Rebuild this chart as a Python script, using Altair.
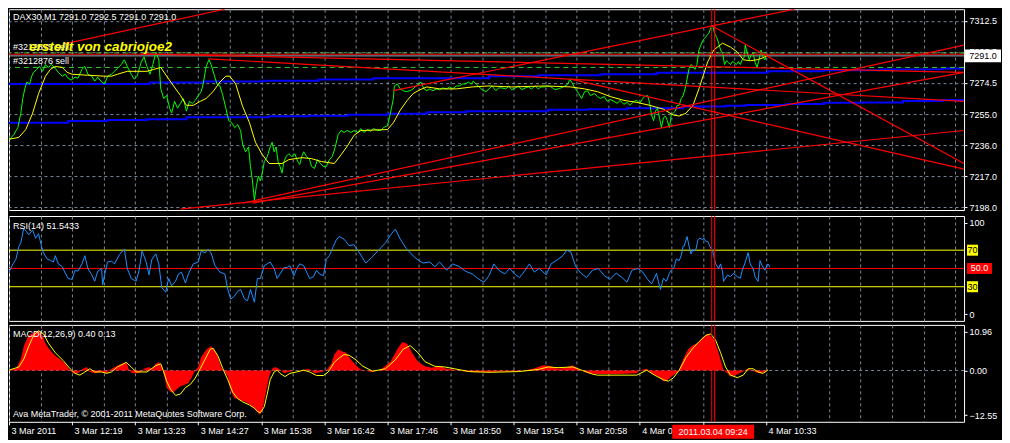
import altair as alt
import pandas as pd

W = 956
H_PRICE = 201
H_RSI = 105
H_MACD = 97
XMAX = 969
FONT = "Liberation Sans"
GRID = "#778899"
GRID_DASH = [3, 3]

# ---------------- price panel data (bar index, price) ----------------
price_bar = [
    0, 5, 9, 12, 14, 16, 18, 21, 23, 25,
    28, 31, 34, 37, 40, 43, 47, 50, 54, 57,
    60, 63, 67, 70, 74, 77, 80, 84, 87, 90,
    94, 97, 100, 104, 107, 110, 114, 117, 120, 124,
    127, 130, 134, 137, 140, 143, 146, 149, 152, 154,
    157, 160, 163, 165, 168, 171, 174, 177, 180, 183,
    186, 189, 192, 195, 197, 200, 203, 205, 208, 211,
    214, 217, 220, 223, 226, 229, 232, 235, 237, 240,
    243, 245, 247, 249, 251, 253, 255, 257, 259, 262,
    265, 267, 269, 271, 273, 275, 277, 279, 281, 284,
    287, 290, 293, 295, 297, 299, 302, 305, 307, 310,
    313, 316, 319, 322, 325, 328, 331, 334, 337, 340,
    343, 347, 350, 354, 357, 360, 364, 367, 370, 374,
    377, 380, 384, 386, 388, 390, 391, 394, 397, 400,
    403, 407, 410, 413, 416, 418, 421, 424, 427, 430,
    434, 437, 440, 444, 447, 450, 454, 457, 460, 463,
    466, 469, 471, 474, 477, 480, 484, 487, 490, 494,
    497, 500, 504, 507, 510, 514, 517, 520, 524, 527,
    530, 534, 537, 540, 544, 547, 550, 554, 557, 560,
    564, 567, 569, 572, 574, 576, 578, 581, 584, 587,
    590, 594, 597, 600, 604, 607, 610, 614, 617, 620,
    624, 627, 630, 634, 637, 640, 643, 645, 648, 650,
    652, 654, 656, 658, 660, 662, 664, 666, 668, 670,
    672, 674, 676, 678, 680, 682, 684, 686, 688, 690,
    692, 694, 696, 698, 700, 702, 704, 706, 708, 710,
    712, 714, 716, 718, 720, 722, 724, 726, 728, 730,
    732, 734, 736, 738, 740, 742, 744, 746, 747, 749,
    751, 753, 755, 757, 759, 761, 763, 765, 767, 769,
    770,
]
price_val = [
    7239.1, 7242.7, 7246.9, 7255.8, 7264.8, 7270.7, 7274.9, 7273.7, 7278.5, 7280.9,
    7282.7, 7284.5, 7281.5, 7285.7, 7283.9, 7285.7, 7283.3, 7280.9, 7278.5, 7279.7,
    7277.3, 7276.1, 7277.9, 7277.3, 7282.7, 7284.5, 7279.7, 7278.5, 7275.5, 7277.9,
    7274.9, 7273.7, 7278.5, 7279.7, 7281.5, 7283.3, 7285.7, 7288.6, 7284.5, 7279.7,
    7276.7, 7278.5, 7286.9, 7290.4, 7284.5, 7279.7, 7285.7, 7293.4, 7288.6, 7270.7,
    7264.8, 7266.6, 7258.8, 7255.8, 7263.0, 7258.8, 7261.8, 7264.8, 7257.0, 7263.0,
    7261.8, 7263.6, 7266.6, 7269.0, 7273.7, 7284.5, 7288.6, 7285.7, 7279.7, 7273.7,
    7272.5, 7266.6, 7258.8, 7251.1, 7249.9, 7246.9, 7248.7, 7245.1, 7236.8, 7232.0,
    7235.0, 7223.0, 7214.1, 7202.2, 7211.1, 7217.1, 7214.1, 7218.9, 7226.0, 7229.0,
    7235.0, 7237.9, 7232.0, 7235.0, 7226.0, 7223.0, 7218.9, 7226.0, 7229.0, 7230.8,
    7229.0, 7230.8, 7226.0, 7224.2, 7229.0, 7232.0, 7229.0, 7227.2, 7223.0, 7221.8,
    7227.2, 7224.8, 7223.0, 7223.0, 7227.2, 7229.0, 7235.0, 7242.7, 7245.1, 7243.9,
    7245.1, 7243.9, 7245.1, 7243.9, 7246.3, 7243.9, 7245.7, 7244.5, 7246.3, 7245.1,
    7245.1, 7246.9, 7248.1, 7252.9, 7258.8, 7264.8, 7272.5, 7273.7, 7270.7, 7269.6,
    7269.0, 7269.6, 7270.7, 7272.5, 7273.7, 7274.9, 7270.7, 7269.6, 7270.7, 7269.6,
    7270.7, 7270.2, 7271.3, 7270.7, 7271.9, 7270.7, 7272.5, 7272.5, 7273.7, 7273.7,
    7274.9, 7273.7, 7275.5, 7273.7, 7271.9, 7270.2, 7269.0, 7270.7, 7272.5, 7269.6,
    7271.3, 7271.3, 7270.7, 7272.5, 7270.2, 7271.3, 7272.5, 7270.2, 7271.3, 7271.9,
    7270.7, 7272.5, 7270.7, 7271.9, 7271.9, 7272.5, 7271.9, 7270.2, 7270.7, 7271.3,
    7272.5, 7273.7, 7276.7, 7273.7, 7271.3, 7269.6, 7267.8, 7264.8, 7269.0, 7269.6,
    7266.6, 7267.8, 7266.0, 7264.8, 7266.0, 7263.0, 7264.2, 7263.0, 7261.8, 7263.6,
    7261.2, 7262.4, 7260.6, 7263.0, 7263.6, 7261.8, 7264.8, 7266.0, 7266.6, 7261.8,
    7254.6, 7251.1, 7257.0, 7258.8, 7252.9, 7246.9, 7252.9, 7254.0, 7251.1, 7246.9,
    7254.6, 7255.8, 7257.0, 7260.6, 7260.6, 7264.8, 7266.6, 7270.7, 7276.7, 7283.3,
    7285.7, 7284.5, 7282.7, 7285.7, 7294.6, 7297.6, 7300.6, 7301.8, 7303.6, 7304.7,
    7308.3, 7309.5, 7304.7, 7302.4, 7298.8, 7294.6, 7292.8, 7285.7, 7288.0, 7286.9,
    7285.7, 7287.5, 7286.9, 7285.7, 7287.5, 7285.7, 7288.6, 7290.4, 7297.6, 7292.8,
    7288.6, 7291.6, 7292.8, 7286.9, 7283.9, 7288.6, 7294.6, 7290.4, 7288.6, 7291.6,
    7291.0,
]

ma_bar = [
    0, 10, 17, 24, 30, 37, 42, 47, 54, 59,
    64, 80, 97, 104, 110, 120, 130, 140, 147, 154,
    160, 167, 174, 180, 187, 194, 200, 207, 214, 220,
    224, 230, 237, 244, 250, 257, 264, 277, 284, 297,
    307, 317, 330, 337, 344, 350, 357, 384, 390, 397,
    404, 410, 417, 424, 437, 454, 470, 487, 510, 544,
    570, 584, 597, 610, 624, 637, 650, 664, 674, 680,
    687, 694, 700, 709, 715, 724, 732, 739, 745, 752,
    759, 765, 770,
]
ma_val = [
    7239.7, 7240.9, 7245.7, 7255.8, 7267.8, 7278.5, 7282.7, 7284.5, 7283.9, 7280.9,
    7279.7, 7279.1, 7278.5, 7278.5, 7279.7, 7281.5, 7281.5, 7281.5, 7282.7, 7283.9,
    7278.5, 7272.5, 7266.6, 7260.6, 7260.6, 7263.0, 7264.8, 7269.0, 7274.9, 7278.5,
    7278.5, 7273.7, 7260.0, 7249.9, 7237.9, 7230.2, 7224.8, 7224.8, 7227.2, 7228.4,
    7227.8, 7226.0, 7224.8, 7230.2, 7236.2, 7242.1, 7245.1, 7245.7, 7249.9, 7257.6,
    7263.6, 7267.8, 7270.2, 7271.9, 7270.7, 7270.7, 7271.9, 7272.5, 7271.9, 7272.5,
    7271.9, 7270.7, 7269.0, 7266.0, 7263.6, 7262.4, 7260.6, 7258.2, 7254.6, 7254.0,
    7255.8, 7260.6, 7270.7, 7287.5, 7294.6, 7298.8, 7296.4, 7293.4, 7288.6, 7288.0,
    7288.6, 7289.8, 7291.6,
]

# stepped blue levels
blue1_bar = [0, 143, 197, 257, 314, 370, 487, 537, 600, 657, 770, 827, 884, 947, 969]
blue1_val = [7273.7, 7274.7, 7275.3, 7275.7, 7276.5, 7277.3, 7278.5, 7279.1, 7279.7,
             7280.6, 7281.5, 7282.1, 7282.7, 7283.3, 7283.3]
blue2_bar = [0, 60, 100, 140, 180, 264, 304, 344, 384, 424, 464, 547, 587, 627, 684,
             727, 747, 789, 827, 867, 907, 947, 969]
blue2_val = [7249.9, 7250.9, 7251.5, 7252.0, 7253.2, 7253.9, 7254.2, 7254.8, 7255.4,
             7256.3, 7256.9, 7257.8, 7258.2, 7258.8, 7259.8, 7260.4, 7260.8, 7261.4,
             7262.2, 7262.4, 7263.2, 7263.8, 7263.8]

# red trend lines: start bar/price -> end bar/price
trend_b0 = [55, 390, 0, 134, 202, 570, 713, 237, 247, 174]
trend_p0 = [7298.2, 7269.6, 7292.0, 7292.2, 7289.2, 7276.7, 7309.5, 7200.4, 7200.4, 7196.8]
trend_b1 = [219, 797, 969, 969, 969, 969, 969, 969, 969, 969]
trend_p1 = [7319.7, 7319.7, 7292.0, 7280.9, 7263.0, 7221.3, 7224.8, 7297.6, 7280.9, 7245.1]

order_price = [7292.8, 7283.9]
order_label = ["#3212875 sell", "#3212876 sell"]
bid_price = [7291.0]
cross_bar = [713, 716]
price_ticks = [7198.0, 7217.0, 7236.0, 7255.0, 7274.5, 7293.5, 7312.5]

title_price = "DAX30,M1  7291.0 7292.5 7291.0 7291.0"
signature = "erstellt von cabriojoe2"

# ---------------- RSI ----------------
rsi_bar = [
    0, 4, 7, 10, 12, 15, 18, 20, 24, 27,
    30, 33, 35, 39, 42, 45, 47, 50, 54, 57,
    60, 64, 67, 70, 74, 77, 80, 84, 87, 90,
    94, 95, 97, 100, 104, 107, 112, 115, 117, 120,
    124, 129, 132, 135, 139, 142, 145, 149, 152, 155,
    159, 162, 165, 169, 172, 175, 179, 182, 187, 192,
    195, 199, 202, 205, 209, 214, 219, 222, 225, 229,
    232, 235, 239, 242, 245, 249, 252, 255, 259, 262,
    265, 269, 272, 275, 279, 282, 285, 289, 292, 295,
    299, 302, 305, 309, 312, 315, 319, 322, 325, 329,
    332, 335, 340, 345, 350, 355, 362, 368, 375, 382,
    388, 392, 397, 403, 408, 414, 420, 427, 432, 437,
    444, 450, 457, 463, 470, 477, 482, 487, 492, 497,
    503, 508, 513, 518, 523, 528, 533, 538, 545, 550,
    557, 562, 566, 570, 575, 580, 586, 592, 598, 604,
    610, 616, 622, 627, 632, 638, 643, 648, 652, 657,
    660, 661, 664, 667, 670, 672, 675, 677, 680, 682,
    684, 685, 688, 690, 692, 694, 695, 697, 699, 701,
    704, 705, 707, 709, 711, 714, 715, 717, 720, 722,
    724, 725, 729, 732, 735, 739, 742, 744, 747, 750,
    752, 755, 757, 760, 762, 764, 767, 770, 772,
]
rsi_val = [
    46, 55, 60, 74, 78, 94, 90, 87, 92, 83,
    88, 74, 67, 60, 59, 57, 64, 55, 52, 45,
    39, 38, 48, 47, 55, 64, 50, 43, 36, 47,
    50, 32, 43, 57, 58, 55, 65, 69, 71, 50,
    39, 36, 48, 69, 58, 43, 60, 66, 55, 29,
    24, 39, 31, 36, 44, 46, 34, 44, 55, 57,
    69, 67, 71, 67, 53, 46, 44, 27, 16.5, 20,
    25, 27, 16.5, 14.7, 27, 13, 39, 39, 53, 55,
    57, 50, 39, 44, 51, 51, 53, 42, 50, 55,
    53, 46, 39, 41, 48, 44, 42, 60, 64, 74,
    81, 85, 82, 75, 76, 68, 56, 62, 70, 78,
    88, 93, 82, 72, 66, 60, 56, 57, 52, 57,
    48, 55, 52, 47, 44, 38, 35, 42, 55, 48,
    44, 50, 44, 40, 47, 55, 46, 50, 43, 55,
    60, 64, 70, 68, 52, 45, 40, 48, 50, 42,
    38, 45, 40, 35, 48, 50, 46, 38, 33, 44.6,
    30.5, 27, 39.3, 35.8, 44.6, 48.1, 51.6, 60.4, 58.6, 64,
    74.4, 74.4, 84.9, 74.4, 65.8, 71, 69, 71, 81.4, 83.2,
    81.4, 83.2, 79.6, 79.6, 74.4, 69.1, 64, 55, 49.8, 55,
    46.3, 35.8, 42.8, 41, 44.6, 41, 39.3, 48.1, 56.8, 67.4,
    55, 49.8, 41, 35.8, 58.6, 53.3, 48.1, 55, 51.5,
]
rsi_levels_hi_lo = [70, 30]
rsi_level_mid = [50]
rsi_title = "RSI(14) 51.5433"

# ---------------- MACD ----------------
macd_bar = [
    0, 7, 12, 15, 19, 22, 27, 30, 34, 37,
    40, 44, 47, 52, 57, 62, 65, 70, 75, 79,
    82, 87, 94, 99, 104, 110, 115, 119, 122, 125,
    129, 134, 137, 142, 145, 149, 152, 155, 158, 160,
    164, 167, 170, 174, 179, 182, 185, 189, 192, 195,
    199, 202, 205, 209, 212, 215, 219, 222, 225, 229,
    232, 235, 240, 245, 250, 254, 257, 260, 264, 267,
    270, 274, 279, 284, 290, 297, 304, 310, 317, 322,
    327, 330, 334, 337, 342, 347, 352, 357, 362, 367,
    377, 387, 394, 399, 404, 409, 415, 422, 429, 437,
    444, 452, 462, 472, 487, 502, 517, 532, 542, 550,
    557, 565, 572, 579, 587, 597, 617, 637, 640, 647,
    652, 659, 664, 667, 672, 679, 684, 689, 694, 699,
    704, 709, 715, 720, 725, 729, 732, 737, 744, 749,
    754, 757, 762, 767, 770,
]
macd_val = [
    0.1, 0.5, 3.2, 6.8, 9.4, 10.3, 10.8, 11.2, 9.9, 7.7,
    6.3, 5.0, 4.1, 3.2, 1.9, 0.1, -0.8, -0.8, 0.5, 1.0,
    -0.4, -0.8, -0.4, -0.8, 0.5, 1.4, 1.9, 2.3, 0.1, -0.8,
    -0.8, -0.4, 0.5, 1.0, 0.5, 1.9, 2.3, 1.0, -2.1, -4.8,
    -6.1, -6.1, -5.3, -4.4, -3.9, -3.5, -2.1, 0.1, 1.0, 3.7,
    5.4, 6.3, 6.8, 5.4, 3.7, 1.0, -0.4, -1.7, -5.7, -7.9,
    -7.9, -8.4, -8.8, -9.7, -11.0, -12.4, -11.5, -7.0, -1.7, 0.5,
    1.0, 0.5, -0.8, -0.4, 0.1, 0.1, 0.5, -0.8, -0.4, 0.1,
    1.9, 4.5, 5.9, 5.5, 5.0, 3.0, 1.5, 0.3, 0.0, -0.4,
    0.2, 2.5, 6.0, 8.0, 7.5, 5.0, 2.5, 1.2, 0.8, 1.3,
    0.5, 0.2, -0.3, -0.5, -0.4, -0.3, -0.2, 0.5, 1.5, 1.2,
    0.5, 0.8, 1.5, 0.2, -0.8, -1.0, -1.0, -0.8, 0.1, 0.5,
    -0.8, -1.7, -3.0, -3.0, -1.7, -0.4, 3.2, 5.9, 7.2, 7.7,
    9.4, 10.3, 9.0, 5.0, 0.1, -0.8, -1.7, -1.3, -0.4, 0.5,
    0.1, -0.4, -0.8, -0.4, 0.4,
]
signal_bar = [
    0, 10, 15, 20, 25, 30, 35, 40, 47, 55,
    62, 67, 72, 77, 82, 87, 94, 99, 104, 110,
    119, 124, 129, 134, 140, 149, 154, 157, 160, 164,
    169, 174, 179, 184, 189, 194, 199, 204, 207, 212,
    217, 222, 227, 232, 237, 244, 249, 252, 255, 259,
    262, 265, 269, 272, 275, 280, 285, 292, 299, 305,
    312, 319, 324, 330, 335, 340, 345, 352, 359, 369,
    382, 392, 400, 407, 415, 422, 432, 442, 452, 467,
    487, 517, 537, 547, 557, 572, 582, 592, 597, 637,
    647, 655, 664, 669, 674, 680, 687, 694, 700, 707,
    712, 717, 722, 727, 732, 739, 745, 750, 755, 760,
    765, 770,
]
signal_val = [
    0.1, 1.0, 3.2, 6.8, 9.9, 11.2, 10.3, 7.7, 5.0, 2.8,
    0.5, -0.8, -1.3, -0.4, 0.5, -0.4, -0.4, -0.8, -0.4, 1.0,
    2.3, 1.0, -0.4, -0.4, -0.4, 1.4, 1.9, -0.4, -3.0, -5.3,
    -7.0, -6.6, -4.8, -3.9, -2.1, 0.5, 3.2, 5.9, 6.3, 4.1,
    0.5, -2.6, -6.1, -7.9, -8.8, -9.7, -10.6, -11.5, -11.9, -10.2,
    -6.6, -2.6, -0.4, 0.1, -0.8, -1.7, -0.8, -0.4, 0.1, -0.4,
    -1.4, -1.4, -0.4, 2.3, 3.5, 4.5, 4.3, 3.0, 1.2, -0.2,
    0.5, 3.0, 6.0, 7.0, 5.0, 2.5, 1.2, 1.0, 0.5, -0.3,
    -0.5, -0.3, 0.3, 1.0, 0.8, 1.0, 0.0, -1.0, -1.3, -1.3,
    0.1, -1.3, -2.6, -3.0, -2.1, 0.1, 3.7, 6.3, 8.1, 9.9,
    10.3, 8.5, 5.0, 1.0, -1.3, -2.0, -1.3, 0.5, 0.5, -0.4,
    -0.8, 0.13,
]
macd_ticks = [-12.55, 0.0, 10.96]
macd_title = "MACD(12,26,9) 0.40 0.13"
copyright_text = "Ava MetaTrader, \u00a9 2001-2011 MetaQuotes Software Corp."

# ---------------- time axis (one label every 64 bars; the one under the cursor box is hidden) ----------------
time_labels = ["3 Mar 2011", "3 Mar 12:19", "3 Mar 13:23", "3 Mar 14:27", "3 Mar 15:38",
               "3 Mar 16:42", "3 Mar 17:46", "3 Mar 18:50", "3 Mar 19:54", "3 Mar 20:58",
               "4 Mar 08:16", "", "4 Mar 10:33"]
cursor_time = "2011.03.04 09:24"

# ======================================================================
xs = alt.Scale(domain=[0, XMAX], nice=False, zero=False, padding=0)
grid_vals = list(range(0, XMAX, 32))

lab_list = []
for i, v in enumerate(grid_vals):
    if v % 64 == 0 and v // 64 < len(time_labels):
        lab_list.append(time_labels[v // 64])
    else:
        lab_list.append("")
label_expr = "[" + ",".join("'" + s + "'" for s in lab_list) + "][round(datum.value / 32)]"

ax_x_hidden = alt.Axis(values=grid_vals, grid=True, gridColor=GRID, gridDash=GRID_DASH,
                       labels=False, ticks=False, domain=False, title=None)
ax_x_bottom = alt.Axis(values=grid_vals, grid=True, gridColor=GRID, gridDash=GRID_DASH,
                       labels=True, labelExpr=label_expr, labelAlign="left", labelBaseline="top",
                       labelOffset=2, labelPadding=2, labelFlush=False, labelOverlap=False,
                       ticks=True, tickSize=3, tickColor="white",
                       tickOpacity={"condition": {"test": "datum.value % 64 === 0 && datum.value <= 768", "value": 1}, "value": 0},
                       domain=False, title=None)

BOX = "M-1,-0.36L1,-0.36L1,0.36L-1,0.36Z"
SQUARE = "M-1,-1L1,-1L1,1L-1,1Z"
WIDE = "M-1,-0.44L1,-0.44L1,0.44L-1,0.44Z"
TIMEBOX = "M-1,-0.17L1,-0.17L1,0.17L-1,0.17Z"
RED_W = 1.2


def xq(f, ax):
    return alt.X(f + ":Q", scale=xs, axis=ax)


def yq(f, scale, ax):
    return alt.Y(f + ":Q", scale=scale, axis=ax)


# ---------------- price panel ----------------
ps = alt.Scale(domain=[7196.2, 7319.7], nice=False, zero=False)
ax_price = alt.Axis(orient="right", values=price_ticks, labelExpr="format(datum.value, '.1f')",
                    grid=True, gridColor=GRID, gridDash=GRID_DASH, tickSize=3, tickColor="white",
                    labelPadding=2, labelOverlap=False, domain=False, title=None)
PX = ax_x_hidden
PY = ax_price

price_df = pd.DataFrame({"bar": price_bar, "price": price_val})
ma_df = pd.DataFrame({"bar": ma_bar, "price": ma_val})
blue_df = pd.concat([
    pd.DataFrame({"bar": blue1_bar, "price": blue1_val, "id": "b1"}),
    pd.DataFrame({"bar": blue2_bar, "price": blue2_val, "id": "b2"}),
])
trend_df = pd.DataFrame({"bar": trend_b0, "price": trend_p0, "b1": trend_b1, "p1": trend_p1})
order_df = pd.DataFrame({"price": order_price, "label": order_label})
bid_df = pd.DataFrame({"price": bid_price, "label": ["7291.0"]})
cross_df = pd.DataFrame({"bar": cross_bar})

blue_lines = alt.Chart(blue_df).mark_line(color="#0000ff", strokeWidth=2, interpolate="step-after", clip=True).encode(
    x=xq("bar", PX), y=yq("price", ps, PY), detail="id:N")
order_lines = alt.Chart(order_df).mark_rule(color="#32cd32", strokeWidth=1, strokeDash=[5, 4]).encode(
    y=yq("price", ps, PY))
bid_line = alt.Chart(bid_df).mark_rule(color="#9ea7b3", strokeWidth=1).encode(y=yq("price", ps, PY))
price_line = alt.Chart(price_df).mark_line(color="#00ff00", strokeWidth=1, clip=True).encode(
    x=xq("bar", PX), y=yq("price", ps, PY))
ma_line = alt.Chart(ma_df).mark_line(color="#ffff00", strokeWidth=1, clip=True).encode(
    x=xq("bar", PX), y=yq("price", ps, PY))
trend_lines = alt.Chart(trend_df).mark_rule(color="#ff0000", strokeWidth=RED_W, clip=True).encode(
    x=xq("bar", PX), x2="b1:Q", y=yq("price", ps, PY), y2="p1:Q")
cross_p = alt.Chart(cross_df).mark_rule(color="#ff0000", strokeWidth=1).encode(x=xq("bar", PX))
order_text = alt.Chart(order_df).mark_text(font=FONT, fontSize=9, color="white", align="left",
                                           baseline="bottom", dy=-1).encode(
    x=alt.value(4), y=yq("price", ps, PY), text="label:N")
sig_text = alt.Chart(pd.DataFrame({"price": order_price[:1], "t": [signature]})).mark_text(
    font=FONT, fontSize=13.5, fontWeight="bold", fontStyle="italic", color="#ffff00",
    align="left", baseline="alphabetic", dy=-2).encode(
    x=alt.value(20), y=yq("price", ps, PY), text="t:N")
title_p = alt.Chart(pd.DataFrame({"t": [title_price]})).mark_text(
    font=FONT, fontSize=9, color="white", align="left", baseline="middle").encode(
    x=alt.value(4), y=alt.value(7.5), text="t:N")
bid_box = alt.Chart(bid_df).mark_point(shape=BOX, size=36 * 36, filled=True, fill="white",
                                       opacity=1, strokeWidth=0).encode(
    x=alt.value(W + 19), y=yq("price", ps, PY))
bid_text = alt.Chart(bid_df).mark_text(font=FONT, fontSize=9, color="black", align="center",
                                       baseline="middle").encode(
    x=alt.value(W + 19), y=yq("price", ps, PY), text="label:N")

price_panel = alt.layer(blue_lines, order_lines, bid_line, price_line, ma_line,
                        trend_lines, cross_p, order_text, sig_text, title_p, bid_box, bid_text
                        ).properties(width=W, height=H_PRICE)

# ---------------- RSI panel ----------------
rs = alt.Scale(domain=[-7.4, 107.4], nice=False, zero=False)
ax_rsi = alt.Axis(orient="right", values=[0, 100], format="d", grid=False, tickSize=3,
                  tickColor="white", labelPadding=2, domain=False, title=None)
RX = ax_x_hidden
RY = ax_rsi
rsi_df = pd.DataFrame({"bar": rsi_bar, "rsi": rsi_val})
hl_df = pd.DataFrame({"rsi": rsi_levels_hi_lo, "label": [str(v) for v in rsi_levels_hi_lo]})
mid_df = pd.DataFrame({"rsi": rsi_level_mid, "label": ["%.1f" % v for v in rsi_level_mid]})

rsi_line = alt.Chart(rsi_df).mark_line(color="#1e90ff", strokeWidth=1, clip=True).encode(
    x=xq("bar", RX), y=yq("rsi", rs, RY))
hl_rules = alt.Chart(hl_df).mark_rule(color="#ffff00", strokeWidth=1).encode(y=yq("rsi", rs, RY))
mid_rule = alt.Chart(mid_df).mark_rule(color="#ff0000", strokeWidth=1).encode(y=yq("rsi", rs, RY))
cross_r = alt.Chart(cross_df).mark_rule(color="#ff0000", strokeWidth=1).encode(x=xq("bar", RX))
hl_box = alt.Chart(hl_df).mark_point(shape=SQUARE, size=11 * 11, filled=True, fill="#ffff00",
                                     opacity=1, strokeWidth=0).encode(
    x=alt.value(W + 8.5), y=yq("rsi", rs, RY))
hl_text = alt.Chart(hl_df).mark_text(font=FONT, fontSize=9, color="black", align="center",
                                     baseline="middle").encode(
    x=alt.value(W + 8.5), y=yq("rsi", rs, RY), text="label:N")
mid_box = alt.Chart(mid_df).mark_point(shape=WIDE, size=25 * 25, filled=True, fill="#ff0000",
                                       opacity=1, strokeWidth=0).encode(
    x=alt.value(W + 15.5), y=yq("rsi", rs, RY))
mid_text = alt.Chart(mid_df).mark_text(font=FONT, fontSize=9, color="white", align="center",
                                       baseline="middle").encode(
    x=alt.value(W + 15.5), y=yq("rsi", rs, RY), text="label:N")
title_r = alt.Chart(pd.DataFrame({"t": [rsi_title]})).mark_text(
    font=FONT, fontSize=9, color="white", align="left", baseline="middle").encode(
    x=alt.value(4), y=alt.value(10), text="t:N")

rsi_panel = alt.layer(hl_rules, mid_rule, rsi_line, cross_r, hl_box, hl_text, mid_box,
                      mid_text, title_r).properties(width=W, height=H_RSI)

# ---------------- MACD panel ----------------
ms = alt.Scale(domain=[-14.42, 12.83], nice=False, zero=False)
ax_macd = alt.Axis(orient="right", values=macd_ticks, format=".2f", grid=False, tickSize=3,
                   tickColor="white", labelPadding=2, domain=False, title=None)
MX = ax_x_bottom
MY = ax_macd
macd_df = pd.DataFrame({"bar": macd_bar, "v": macd_val})
sig_df = pd.DataFrame({"bar": signal_bar, "v": signal_val})

zero_rule = alt.Chart(pd.DataFrame({"v": [0.0]})).mark_rule(
    color=GRID, strokeDash=GRID_DASH, strokeWidth=1).encode(y=yq("v", ms, MY))
macd_area = alt.Chart(macd_df).mark_area(color="#ff0000", opacity=1, clip=True).encode(
    x=xq("bar", MX), y=yq("v", ms, MY), y2=alt.datum(0))
sig_line = alt.Chart(sig_df).mark_line(color="#ffff00", strokeWidth=1, clip=True).encode(
    x=xq("bar", MX), y=yq("v", ms, MY))
cross_m = alt.Chart(cross_df).mark_rule(color="#ff0000", strokeWidth=1).encode(x=xq("bar", MX))
title_m = alt.Chart(pd.DataFrame({"t": [macd_title]})).mark_text(
    font=FONT, fontSize=9, color="white", align="left", baseline="middle").encode(
    x=alt.value(4), y=alt.value(9.5), text="t:N")
copy_m = alt.Chart(pd.DataFrame({"t": [copyright_text]})).mark_text(
    font=FONT, fontSize=9, color="white", align="left", baseline="middle").encode(
    x=alt.value(4), y=alt.value(H_MACD - 8), text="t:N")
time_df = pd.DataFrame({"bar": [sum(cross_bar) / 2.0], "t": [cursor_time]})
time_box = alt.Chart(time_df).mark_point(shape=TIMEBOX, size=82 * 82, filled=True, fill="#ff0000",
                                         opacity=1, strokeWidth=0).encode(
    x=xq("bar", MX), y=alt.value(H_MACD + 10))
time_text = alt.Chart(time_df).mark_text(font=FONT, fontSize=9, color="white", align="center",
                                         baseline="middle").encode(
    x=xq("bar", MX), y=alt.value(H_MACD + 10), text="t:N")

macd_panel = alt.layer(zero_rule, macd_area, sig_line, cross_m, title_m, copy_m,
                       time_box, time_text).properties(width=W, height=H_MACD)

chart = alt.vconcat(price_panel, rsi_panel, macd_panel, spacing=2).properties(
    padding={"left": 0, "top": 0, "right": 0, "bottom": 0},
    background="black",
).configure_view(
    stroke="white", strokeWidth=1, fill="black"
).configure_axis(
    labelFont=FONT, labelFontSize=9, labelColor="white", tickColor="white"
)

chart.save("out.html", embed_options={"renderer": "svg", "actions": False})
